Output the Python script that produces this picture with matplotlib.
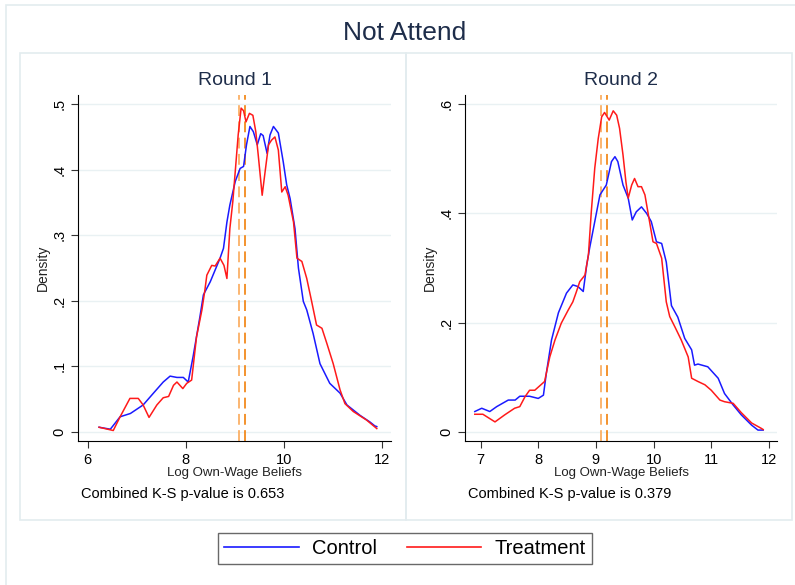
import matplotlib
matplotlib.use("Agg")
import matplotlib.pyplot as plt
from matplotlib.patches import Rectangle
from matplotlib.lines import Line2D

plt.rcParams['font.family'] = ['Liberation Sans', 'DejaVu Sans']

# Round 1 densities
r1_ctrl_x = [6.23, 6.46, 6.66, 6.87, 7.13, 7.34, 7.54, 7.68, 7.82, 7.95, 8.05, 8.15, 8.29,
             8.36, 8.50, 8.70, 8.77, 8.84, 8.90, 9.01, 9.11, 9.18, 9.24, 9.31, 9.38, 9.46,
             9.53, 9.58, 9.66, 9.72, 9.79, 9.89, 9.99, 10.06, 10.13, 10.23, 10.30, 10.40,
             10.47, 10.60, 10.74, 10.94, 11.15, 11.29, 11.56, 11.76, 11.86, 11.90]
r1_ctrl_y = [0.007, 0.004, 0.023, 0.028, 0.041, 0.059, 0.076, 0.085, 0.083, 0.083, 0.076, 0.115, 0.176,
             0.209, 0.229, 0.265, 0.280, 0.320, 0.346, 0.382, 0.402, 0.405, 0.438, 0.466, 0.458, 0.438,
             0.455, 0.452, 0.425, 0.453, 0.466, 0.456, 0.412, 0.377, 0.356, 0.310, 0.250, 0.199,
             0.186, 0.150, 0.104, 0.074, 0.059, 0.041, 0.025, 0.015, 0.009, 0.008]
r1_treat_x = [6.23, 6.52, 6.66, 6.86, 7.03, 7.13, 7.25, 7.41, 7.54, 7.65, 7.75, 7.82, 7.94, 8.02,
              8.12, 8.22, 8.33, 8.39, 8.43, 8.53, 8.60, 8.70, 8.78, 8.84, 8.90, 8.96, 9.01,
              9.07, 9.13, 9.18, 9.23, 9.30, 9.37, 9.43, 9.48, 9.56, 9.62, 9.69, 9.75, 9.82,
              9.89, 9.96, 10.03, 10.09, 10.20, 10.27, 10.37, 10.47, 10.57, 10.67, 10.78, 10.88,
              11.01, 11.15, 11.25, 11.42, 11.69, 11.90]
r1_treat_y = [0.007, 0.002, 0.023, 0.051, 0.051, 0.041, 0.022, 0.041, 0.052, 0.054, 0.071, 0.076, 0.066, 0.074,
              0.079, 0.145, 0.186, 0.216, 0.239, 0.254, 0.253, 0.265, 0.254, 0.234, 0.310, 0.351, 0.397,
              0.453, 0.494, 0.490, 0.473, 0.486, 0.483, 0.458, 0.422, 0.361, 0.397, 0.438, 0.445, 0.450,
              0.430, 0.366, 0.374, 0.361, 0.320, 0.265, 0.260, 0.234, 0.199, 0.163, 0.158, 0.135,
              0.104, 0.064, 0.043, 0.031, 0.018, 0.005]

# Round 2 densities
r2_ctrl_x = [6.90, 7.02, 7.16, 7.28, 7.48, 7.60, 7.68, 7.85, 8.00, 8.09, 8.14, 8.23, 8.35, 8.49,
             8.60, 8.69, 8.78, 8.84, 8.89, 8.98, 9.07, 9.18, 9.27, 9.33, 9.38, 9.47, 9.56, 9.63,
             9.70, 9.79, 9.88, 9.96, 10.05, 10.14, 10.22, 10.31, 10.42, 10.54, 10.66, 10.71,
             10.77, 10.94, 11.12, 11.23, 11.38, 11.52, 11.70, 11.81, 11.90]
r2_ctrl_y = [0.037, 0.043, 0.037, 0.046, 0.058, 0.058, 0.065, 0.065, 0.061, 0.067, 0.107, 0.168, 0.218, 0.254,
             0.269, 0.266, 0.257, 0.305, 0.336, 0.385, 0.434, 0.452, 0.495, 0.504, 0.495, 0.452, 0.428, 0.388,
             0.403, 0.412, 0.400, 0.385, 0.348, 0.345, 0.311, 0.231, 0.210, 0.171, 0.150, 0.122,
             0.124, 0.119, 0.098, 0.070, 0.049, 0.031, 0.012, 0.003, 0.003]
r2_treat_x = [6.90, 7.04, 7.25, 7.42, 7.59, 7.68, 7.77, 7.85, 7.94, 8.11, 8.20, 8.29, 8.40, 8.52,
              8.60, 8.66, 8.72, 8.81, 8.87, 8.92, 8.98, 9.04, 9.10, 9.15, 9.23, 9.30, 9.36, 9.41,
              9.47, 9.52, 9.56, 9.62, 9.67, 9.73, 9.79, 9.85, 9.93, 9.99, 10.05, 10.14, 10.22,
              10.28, 10.37, 10.48, 10.60, 10.66, 10.77, 10.89, 11.00, 11.15, 11.23, 11.38, 11.52,
              11.70, 11.87, 11.90]
r2_treat_y = [0.032, 0.032, 0.018, 0.031, 0.043, 0.046, 0.064, 0.076, 0.076, 0.092, 0.137, 0.168, 0.199, 0.223,
              0.238, 0.256, 0.275, 0.287, 0.324, 0.403, 0.483, 0.537, 0.577, 0.585, 0.571, 0.588, 0.580, 0.556,
              0.507, 0.458, 0.428, 0.452, 0.464, 0.449, 0.449, 0.434, 0.385, 0.348, 0.345, 0.318, 0.238,
              0.211, 0.192, 0.168, 0.137, 0.098, 0.092, 0.086, 0.076, 0.058, 0.055, 0.052, 0.035,
              0.016, 0.006, 0.004]

means = [9.09, 9.20]
mean_colors = ['#fbb066', '#f28a1e']

r1_xticks = [6, 8, 10, 12]
r1_yticks = [0, 0.1, 0.2, 0.3, 0.4, 0.5]
r1_ylabels = ['0', '.1', '.2', '.3', '.4', '.5']
r2_xticks = [7, 8, 9, 10, 11, 12]
r2_yticks = [0, 0.2, 0.4, 0.6]
r2_ylabels = ['0', '.2', '.4', '.6']
pvals = ['0.653', '0.379']

W, H = 795, 585
fig = plt.figure(figsize=(W / 100, H / 100), dpi=100)
fig.patch.set_facecolor('white')

edge = '#e3ecef'
# outer frame (runs off the right/bottom) and panel frames
fig.patches.append(Rectangle((6 / W, -0.2), 1.2, 1.2 - 5 / H, transform=fig.transFigure,
                             fill=False, ec=edge, lw=1.2))
fig.patches.append(Rectangle((20 / W, 1 - 520 / H), 386 / W, 467 / H, transform=fig.transFigure,
                             fill=False, ec=edge, lw=1.2))
fig.patches.append(Rectangle((406 / W, 1 - 520 / H), 386 / W, 467 / H, transform=fig.transFigure,
                             fill=False, ec=edge, lw=1.2))

panels = [
    dict(left=78, right=391, xlim=(5.80, 12.19), ylim=(-0.014, 0.514), title='Round 1',
         cx=r1_ctrl_x, cy=r1_ctrl_y, tx=r1_treat_x, ty=r1_treat_y,
         xt=r1_xticks, yt=r1_yticks, yl=r1_ylabels, p=pvals[0], dens_x=43, ks_x=81),
    dict(left=465, right=777, xlim=(6.73, 12.14), ylim=(-0.017, 0.617), title='Round 2',
         cx=r2_ctrl_x, cy=r2_ctrl_y, tx=r2_treat_x, ty=r2_treat_y,
         xt=r2_xticks, yt=r2_yticks, yl=r2_ylabels, p=pvals[1], dens_x=430, ks_x=468),
]

for pn in panels:
    ax = fig.add_axes([pn['left'] / W, 1 - 441 / H, (pn['right'] - pn['left']) / W, 346 / H])
    ax.set_facecolor('none')
    for yv in pn['yt']:
        ax.axhline(yv, color='#e9f1f3', lw=1.0, zorder=0)
    ax.plot(pn['cx'], pn['cy'], color='#1a1aff', lw=1.1, zorder=3)
    ax.plot(pn['tx'], pn['ty'], color='#ff1a1a', lw=1.1, zorder=3)
    for m, c in zip(means, mean_colors):
        ax.axvline(m, color=c, lw=1.3, ls=(0, (6, 3)), zorder=2)
    ax.set_xlim(pn['xlim'])
    ax.set_ylim(pn['ylim'])
    ax.set_xticks(pn['xt'])
    ax.set_xticklabels([str(v) for v in pn['xt']], fontsize=10.5)
    ax.set_yticks(pn['yt'])
    ax.set_yticklabels(pn['yl'], fontsize=10.5, rotation=90, va='center')
    ax.spines['top'].set_visible(False)
    ax.spines['right'].set_visible(False)
    ax.tick_params(direction='out', length=5, width=0.8, color='#333333')
    ax.set_title(pn['title'], fontsize=14, color='#1e2d4a', pad=7)
    fig.text((pn['left'] + pn['right']) / 2 / W, 1 - 473 / H, 'Log Own-Wage Beliefs',
             ha='center', va='center', fontsize=9.5, color='#222222')
    fig.text(pn['dens_x'] / W, 1 - 268 / H, 'Density', rotation=90,
             ha='center', va='center', fontsize=10, color='#222222')
    fig.text(pn['ks_x'] / W, 1 - 494 / H, 'Combined K-S p-value is ' + pn['p'],
             ha='left', va='center', fontsize=10.5, color='black')

fig.text(405 / W, 1 - 33 / H, 'Not Attend', ha='center', va='center',
         fontsize=19, color='#1e2d4a')

handles = [Line2D([], [], color='#1a1aff', lw=1.2), Line2D([], [], color='#ff1a1a', lw=1.2)]
leg = fig.legend(handles, ['Control', 'Treatment'], loc='center', ncol=2,
                 bbox_to_anchor=(405 / W, 1 - 548.5 / H), fontsize=14.5, frameon=True,
                 fancybox=False, edgecolor='#444444', handlelength=3.7, columnspacing=1.5,
                 handletextpad=0.65, borderpad=0.3, borderaxespad=0)
leg.get_frame().set_linewidth(1.0)

fig.savefig('out.png', dpi=100)
